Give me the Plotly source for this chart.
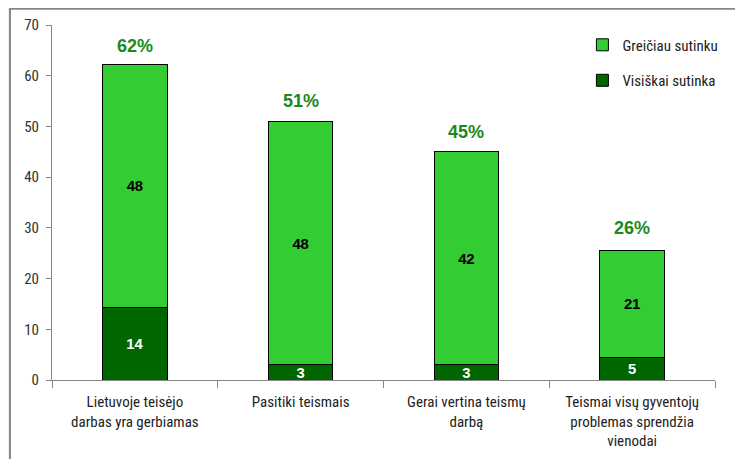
import plotly.graph_objects as go

categories = ["Lietuvoje teisėjo darbas yra gerbiamas", "Pasitiki teismais",
              "Gerai vertina teismų darbą", "Teismai visų gyventojų problemas sprendžia vienodai"]
tick_labels = ["Lietuvoje teisėjo<br>darbas yra gerbiamas", "Pasitiki teismais",
               "Gerai vertina teismų<br>darbą", "Teismai visų gyventojų<br>problemas sprendžia<br>vienodai"]
visiskai = [14.3, 3, 3, 4.5]
visiskai_labels = ["14", "3", "3", "5"]
greiciau = [48, 48, 42, 21]
greiciau_labels = ["48", "48", "42", "21"]
totals = [62, 51, 45, 26]
total_labels = ["62%", "51%", "45%", "26%"]

FONT = "Liberation Sans Narrow, Roboto Condensed, Liberation Sans, sans-serif"
LABEL_FONT = "Liberation Sans, Arial, sans-serif"

fig = go.Figure()
fig.add_trace(go.Bar(
    x=categories, y=visiskai, name="Visiškai sutinka",
    marker=dict(color="#006600", line=dict(color="#000000", width=1)),
    text=visiskai_labels, textposition="inside", insidetextanchor="middle", textangle=0,
    textfont=dict(color="white", size=15, family=LABEL_FONT, weight="bold"),
    width=0.39, legendgroup="b", legendrank=2))
fig.add_trace(go.Bar(
    x=categories, y=greiciau, name="Greičiau sutinku",
    marker=dict(color="#33cc33", line=dict(color="#000000", width=1)),
    text=greiciau_labels, textposition="inside", insidetextanchor="middle", textangle=0,
    textfont=dict(color="black", size=15, family=LABEL_FONT, weight="bold"),
    width=0.39, legendgroup="a", legendrank=1))

for c, t, lab in zip(categories, totals, total_labels):
    fig.add_annotation(x=c, y=t, text=lab, showarrow=False, yanchor="bottom", yshift=8,
                       font=dict(size=18, color="#1a8a1a", family=LABEL_FONT, weight="bold"))

fig.add_shape(type="rect", xref="paper", yref="paper", x0=-0.0633, x1=1.3, y0=-0.4, y1=1.046,
              fillcolor="white", line=dict(color="#888888", width=2), layer="below")

fig.update_layout(
    barmode="stack", width=743, height=459,
    margin=dict(l=44, r=36, t=17, b=87, autoexpand=False),
    paper_bgcolor="#eeeeee", plot_bgcolor="rgba(0,0,0,0)",
    font=dict(family=FONT, size=15, color="#222222"),
    uniformtext=dict(minsize=14, mode="show"),
    legend=dict(x=0.80, y=0.99, xanchor="left", yanchor="top", traceorder="grouped",
                tracegroupgap=13, font=dict(size=15, color="#222222"), bgcolor="rgba(0,0,0,0)"),
    showlegend=True,
)
fig.update_yaxes(range=[0, 70], dtick=10, ticks="outside", ticklen=5, tickcolor="#868686",
                 showline=True, linecolor="#868686", linewidth=1, showgrid=False, zeroline=False,
                 automargin=False, ticklabelstandoff=4, tickfont=dict(size=15, color="#333333"))
fig.update_xaxes(tickvals=categories, ticktext=tick_labels, tickson="boundaries", ticks="outside",
                 ticklen=7, tickcolor="#868686", showline=True, linecolor="#868686", linewidth=1,
                 automargin=False, showgrid=False, ticklabelstandoff=8,
                 tickfont=dict(size=15, color="#222222"))

fig.write_html("out.html")
